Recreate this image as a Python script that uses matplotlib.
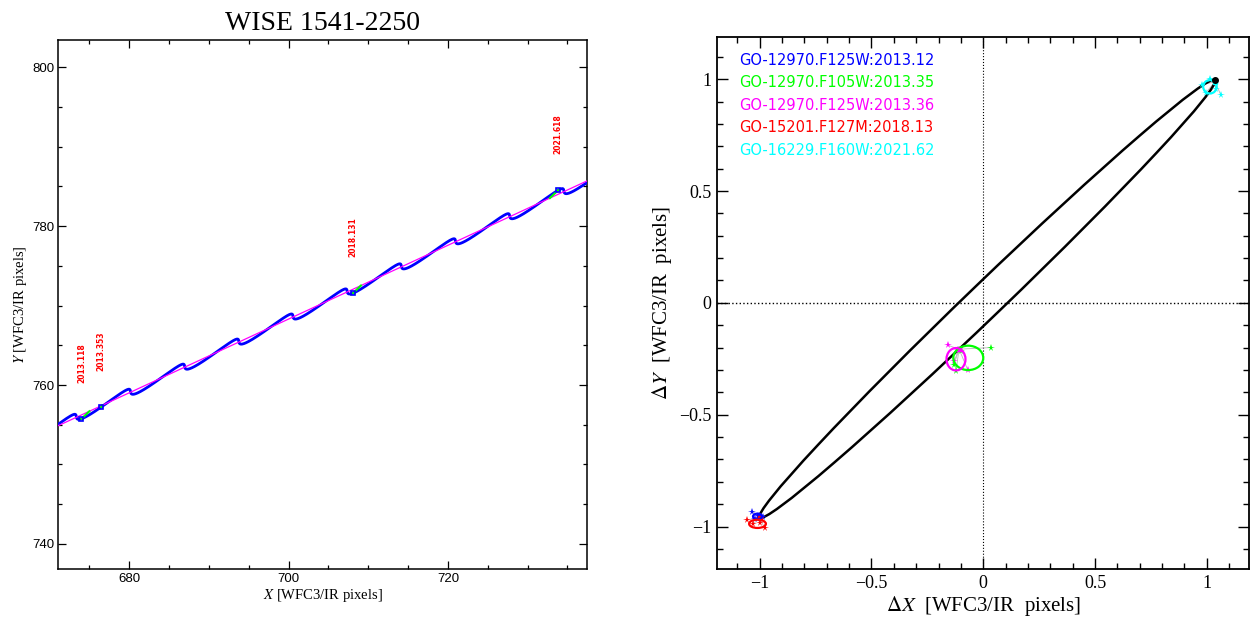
import numpy as np
import matplotlib.pyplot as plt
from matplotlib.patches import Ellipse
from matplotlib.ticker import MultipleLocator

plt.rcParams['mathtext.fontset'] = 'stix'

# astrometric solution, in WFC3/IR pixels and years
ref_epoch = 2013.118
ref_xy = (675.0, 756.7)          # mean position at ref_epoch
pm_xy = (6.80, 3.155)            # proper motion, pix/yr
plx_center = (0.018, 0.018)
plx_major = 1.412                # semi-axes of the parallax ellipse
plx_minor = 0.076
plx_angle = 43.85                # deg
plx_min_phase = 0.131            # year fraction of the most negative offset

# epochs marked on the track
epochs = [2013.118, 2013.353, 2018.131, 2021.618]
epoch_labels = ['2013.118', '2013.353', '2018.131', '2021.618']

# visits shown in the residual panel
visit_names = ['GO-12970.F125W:2013.12', 'GO-12970.F105W:2013.35',
               'GO-12970.F125W:2013.36', 'GO-15201.F127M:2018.13',
               'GO-16229.F160W:2021.62']
visit_colors = ['#0000ff', '#00ff00', '#ff00ff', '#ff0000', '#00ffff']
visit_epochs = [2013.118, 2013.353, 2013.353, 2018.131, 2021.618]

# individual exposure offsets per visit
exp_dx = [[-1.033, -1.008, -0.985, -1.020],
          [0.033, -0.131, -0.122, -0.100],
          [-0.157, -0.112, -0.070, -0.130],
          [-1.055, -0.978, -1.030, -1.000],
          [0.978, 1.063, 1.014, 0.996, 1.040]]
exp_dy = [[-0.933, -0.951, -0.958, -0.965],
          [-0.200, -0.276, -0.306, -0.215],
          [-0.190, -0.212, -0.298, -0.260],
          [-0.970, -1.008, -0.990, -0.985],
          [0.975, 0.929, 1.003, 0.940, 0.955]]

# per-visit scatter ellipses: centre, full width, full height
ell_x = [-1.010, -0.067, -0.122, -1.010, 1.014]
ell_y = [-0.955, -0.246, -0.252, -0.988, 0.966]
ell_w = [0.040, 0.134, 0.085, 0.075, 0.060]
ell_h = [0.025, 0.109, 0.100, 0.037, 0.060]

tip_xy = (1.037, 0.997)


def parallax(t):
    t = np.asarray(t, dtype=float)
    phi = 2 * np.pi * (t - plx_min_phase)
    th = np.radians(plx_angle)
    u = -plx_major * np.cos(phi)
    v = plx_minor * np.sin(phi)
    dx = plx_center[0] + u * np.cos(th) + v * np.sin(th)
    dy = plx_center[1] + u * np.sin(th) - v * np.cos(th)
    return dx, dy


def mean_pos(t):
    t = np.asarray(t, dtype=float)
    return (ref_xy[0] + pm_xy[0] * (t - ref_epoch),
            ref_xy[1] + pm_xy[1] * (t - ref_epoch))


fig = plt.figure(figsize=(12.52, 6.22), dpi=100)
ax1 = fig.add_axes([0.0466, 0.0852, 0.4225, 0.851])
ax2 = fig.add_axes([0.5729, 0.0852, 0.4249, 0.8558])

# ---- left: track on the detector ----
tt = np.linspace(2012.2, 2023.0, 6000)
mx, my = mean_pos(tt)
px, py = parallax(tt)
ax1.plot(mx + px, my + py, color='#0000ff', lw=2.0, zorder=3)
ax1.plot(mx, my, color='#ff00ff', lw=0.9, zorder=4)

for ep, lab in zip(epochs, epoch_labels):
    ex, ey = mean_pos(ep)
    dx, dy = parallax(ep)
    ax1.plot([ex + dx, ex], [ey + dy, ey], color='#00ff00', lw=1.5, zorder=5)
    ax1.plot(ex + dx, ey + dy, 's', ms=3.5, mfc='none', mec='#0000ff',
             mew=1.2, zorder=6)
    ax1.text(ex + dx, ey + dy + 4.5, lab, rotation=90, ha='center',
             va='bottom', color='#ff0000', fontsize=5.5, fontweight='bold',
             fontfamily='DejaVu Sans')

ax1.set_xlim(671.1, 737.5)
ax1.set_ylim(736.85, 803.45)
ax1.set_xticks([680, 700, 720], ['680', '700', '720'],
               fontfamily='Liberation Sans', fontsize=9.5)
ax1.set_yticks([740, 760, 780, 800], ['740', '760', '780', '800'],
               fontfamily='Liberation Sans', fontsize=9.5)
ax1.xaxis.set_minor_locator(MultipleLocator(5))
ax1.yaxis.set_minor_locator(MultipleLocator(5))
ax1.tick_params(which='both', direction='in', top=True, right=True, width=0.9)
ax1.tick_params(which='major', length=6, pad=3)
ax1.tick_params(which='minor', length=3)
for s in ax1.spines.values():
    s.set_linewidth(1.1)
ax1.set_xlabel('$X$ [WFC3/IR pixels]', fontfamily='Liberation Serif',
               fontsize=10.5, labelpad=1)
ax1.set_ylabel('$Y$ [WFC3/IR pixels]', fontfamily='Liberation Serif',
               fontsize=10.5, labelpad=2)
ax1.set_title('WISE 1541-2250', fontfamily='Liberation Serif', fontsize=20,
              pad=7)

# ---- right: parallax ellipse and residuals ----
ax2.axhline(0, color='k', ls=':', lw=1.0, zorder=1)
ax2.axvline(0, color='k', ls=':', lw=0.8, zorder=1)
ax2.add_patch(Ellipse(plx_center, 2 * plx_major, 2 * plx_minor,
                      angle=plx_angle, fill=False, ec='k', lw=1.8, zorder=3))

for i, col in enumerate(visit_colors):
    mdx, mdy = parallax(visit_epochs[i])
    for x, y in zip(exp_dx[i], exp_dy[i]):
        ax2.plot([mdx, x], [mdy, y], color='0.72', lw=0.6, zorder=2)
    ax2.plot(exp_dx[i], exp_dy[i], '*', color=col, ms=5.5, mew=0, zorder=5)
    ax2.plot(mdx, mdy, 's', color=col, ms=3, zorder=5)
    ax2.add_patch(Ellipse((ell_x[i], ell_y[i]), ell_w[i], ell_h[i],
                          fill=False, ec=col, lw=1.6, zorder=6))
    ax2.text(-1.094, 1.083 - 0.1 * i, visit_names[i], color=col,
             fontfamily='DejaVu Sans', fontsize=10.5, ha='left', va='center')

ax2.plot(*tip_xy, 'o', color='k', ms=4, zorder=6)

ax2.set_xlim(-1.19, 1.19)
ax2.set_ylim(-1.19, 1.19)
ticks = [-1, -0.5, 0, 0.5, 1]
tlabs = ['\u22121', '\u22120.5', '0', '0.5', '1']
ax2.set_xticks(ticks, tlabs, fontfamily='Liberation Serif', fontsize=13)
ax2.set_yticks(ticks, tlabs, fontfamily='Liberation Serif', fontsize=13)
ax2.xaxis.set_minor_locator(MultipleLocator(0.1))
ax2.yaxis.set_minor_locator(MultipleLocator(0.1))
ax2.tick_params(which='both', direction='in', top=True, right=True, width=1.0)
ax2.tick_params(which='major', length=8, pad=4)
ax2.tick_params(which='minor', length=4)
for s in ax2.spines.values():
    s.set_linewidth(1.3)
ax2.set_xlabel(r'$\Delta X$  [WFC3/IR  pixels]', fontfamily='Liberation Serif',
               fontsize=15, labelpad=2)
ax2.set_ylabel(r'$\Delta Y$  [WFC3/IR  pixels]', fontfamily='Liberation Serif',
               fontsize=15, labelpad=4)

fig.savefig('out.png', dpi=100)
